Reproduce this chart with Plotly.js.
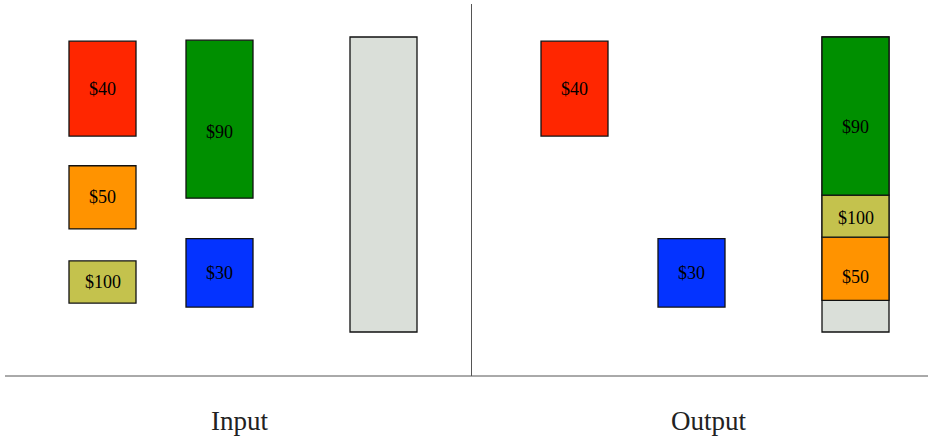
<!DOCTYPE html>
<html>
<head>
<meta charset="utf-8">
<script src="https://cdn.plot.ly/plotly-3.0.1.min.js"></script>
<style>html,body{margin:0;padding:0;background:#fff;}#chart{width:928px;height:440px;}</style>
</head>
<body>
<div id="chart"></div>
<script>
// ---- data ----
const itemNames = ['red', 'orange', 'olive', 'green', 'blue'];
const itemValues = [40, 50, 100, 90, 30];
const itemWeights = [9, 6, 4, 15, 6.5];
const capacity = 28;
const packedOrder = [1, 2, 3];          // items in the knapsack, bottom to top
const panelTitles = ['Input', 'Output'];

// ---- styling / layout config ----
const itemColors = ['#ff2600', '#ff9300', '#c4c24d', '#008f00', '#0433ff'];
const knapColor = '#dadfd9';
const slotX = [102.5, 219.5, 383.5];     // column centres of the input panel
const panelShift = 472;                  // output panel offset
const itemSlot = [0, 0, 0, 1, 1];
const inputBase = [18.6, 9.78, 2.75, 12.7, 2.37];
const inputLabelFrac = [0.5, 0.5, 0.5, 0.42, 0.5];   // label height within box (from bottom)
const packedLabelFrac = [0.375, 0.45, 0.43];
const barW = 67;
const serif = 'Liberation Serif, DejaVu Serif, serif';
const labelFont = {family: serif, size: 18, color: '#000'};

const lbl = v => '$' + v;
const edge = {color: '#111', width: 1.3};
const traces = [];
const labels = [];
function addLabels(xs, bases, hs, fracs, vals) {
  xs.forEach((x, k) => labels.push({
    text: lbl(vals[k]), xref: 'x', yref: 'y', x: x, y: bases[k] + hs[k] * fracs[k],
    showarrow: false, xanchor: 'center', yanchor: 'middle', font: labelFont
  }));
}

// input knapsack
traces.push({type: 'bar', x: [slotX[2]], y: [capacity], base: [0], width: [barW],
  marker: {color: knapColor, line: edge}, hoverinfo: 'skip'});
// input items
const inX = itemWeights.map((w, i) => slotX[itemSlot[i]]);
traces.push({type: 'bar', x: inX, y: itemWeights, base: inputBase,
  width: itemWeights.map(() => barW),
  marker: {color: itemColors, line: edge}, hoverinfo: 'skip'});
addLabels(inX, inputBase, itemWeights, inputLabelFrac, itemValues);

// output knapsack
traces.push({type: 'bar', x: [slotX[2] + panelShift], y: [capacity], base: [0], width: [barW],
  marker: {color: knapColor, line: edge}, hoverinfo: 'skip'});
// output: left-out items stay in place
const leftOut = itemValues.map((v, i) => i).filter(i => !packedOrder.includes(i));
const loX = leftOut.map(i => slotX[itemSlot[i]] + panelShift);
const loY = leftOut.map(i => itemWeights[i]);
const loB = leftOut.map(i => inputBase[i]);
traces.push({type: 'bar', x: loX, y: loY, base: loB, width: leftOut.map(() => barW),
  marker: {color: leftOut.map(i => itemColors[i]), line: edge}, hoverinfo: 'skip'});
addLabels(loX, loB, loY, leftOut.map(i => inputLabelFrac[i]), leftOut.map(i => itemValues[i]));

// output: packed stack, top aligned with capacity
const packedTotal = packedOrder.reduce((s, i) => s + itemWeights[i], 0);
let acc = capacity - packedTotal;
const packedBase = packedOrder.map(i => { const b = acc; acc += itemWeights[i]; return b; });
const pX = packedOrder.map(() => slotX[2] + panelShift);
const pY = packedOrder.map(i => itemWeights[i]);
traces.push({type: 'bar', x: pX, y: pY, base: packedBase, width: packedOrder.map(() => barW),
  marker: {color: packedOrder.map(i => itemColors[i]), line: edge}, hoverinfo: 'skip'});
addLabels(pX, packedBase, pY, packedLabelFrac, packedOrder.map(i => itemValues[i]));

const pxPerUnit = 295 / capacity;
const yBottomPx = 332;
const yTop = yBottomPx / pxPerUnit;
const yBot = -(440 - yBottomPx) / pxPerUnit;

const layout = {
  width: 928, height: 440,
  margin: {l: 0, r: 0, t: 0, b: 0},
  paper_bgcolor: '#fff', plot_bgcolor: '#fff',
  showlegend: false, barmode: 'overlay',
  xaxis: {range: [0, 928], visible: false, fixedrange: true},
  yaxis: {range: [yBot, yTop], visible: false, fixedrange: true},
  shapes: [
    {type: 'line', xref: 'x', yref: 'paper', x0: 5, x1: 928, y0: 1 - 376 / 440, y1: 1 - 376 / 440,
     line: {color: '#555', width: 1}},
    {type: 'line', xref: 'x', yref: 'paper', x0: 471.5, x1: 471.5, y0: 1 - 4 / 440, y1: 1 - 376 / 440,
     line: {color: '#555', width: 1}}
  ],
  annotations: labels.concat(panelTitles.map((t, k) => ({
    text: t, xref: 'x', yref: 'paper', x: 239.5 + k * (708.5 - 239.5), y: 1 - 421 / 440,
    showarrow: false, xanchor: 'center', yanchor: 'middle',
    font: {family: serif, size: 27, color: '#222'}
  })))
};

Plotly.newPlot('chart', traces, layout, {staticPlot: true, displayModeBar: false});
</script>
</body>
</html>
